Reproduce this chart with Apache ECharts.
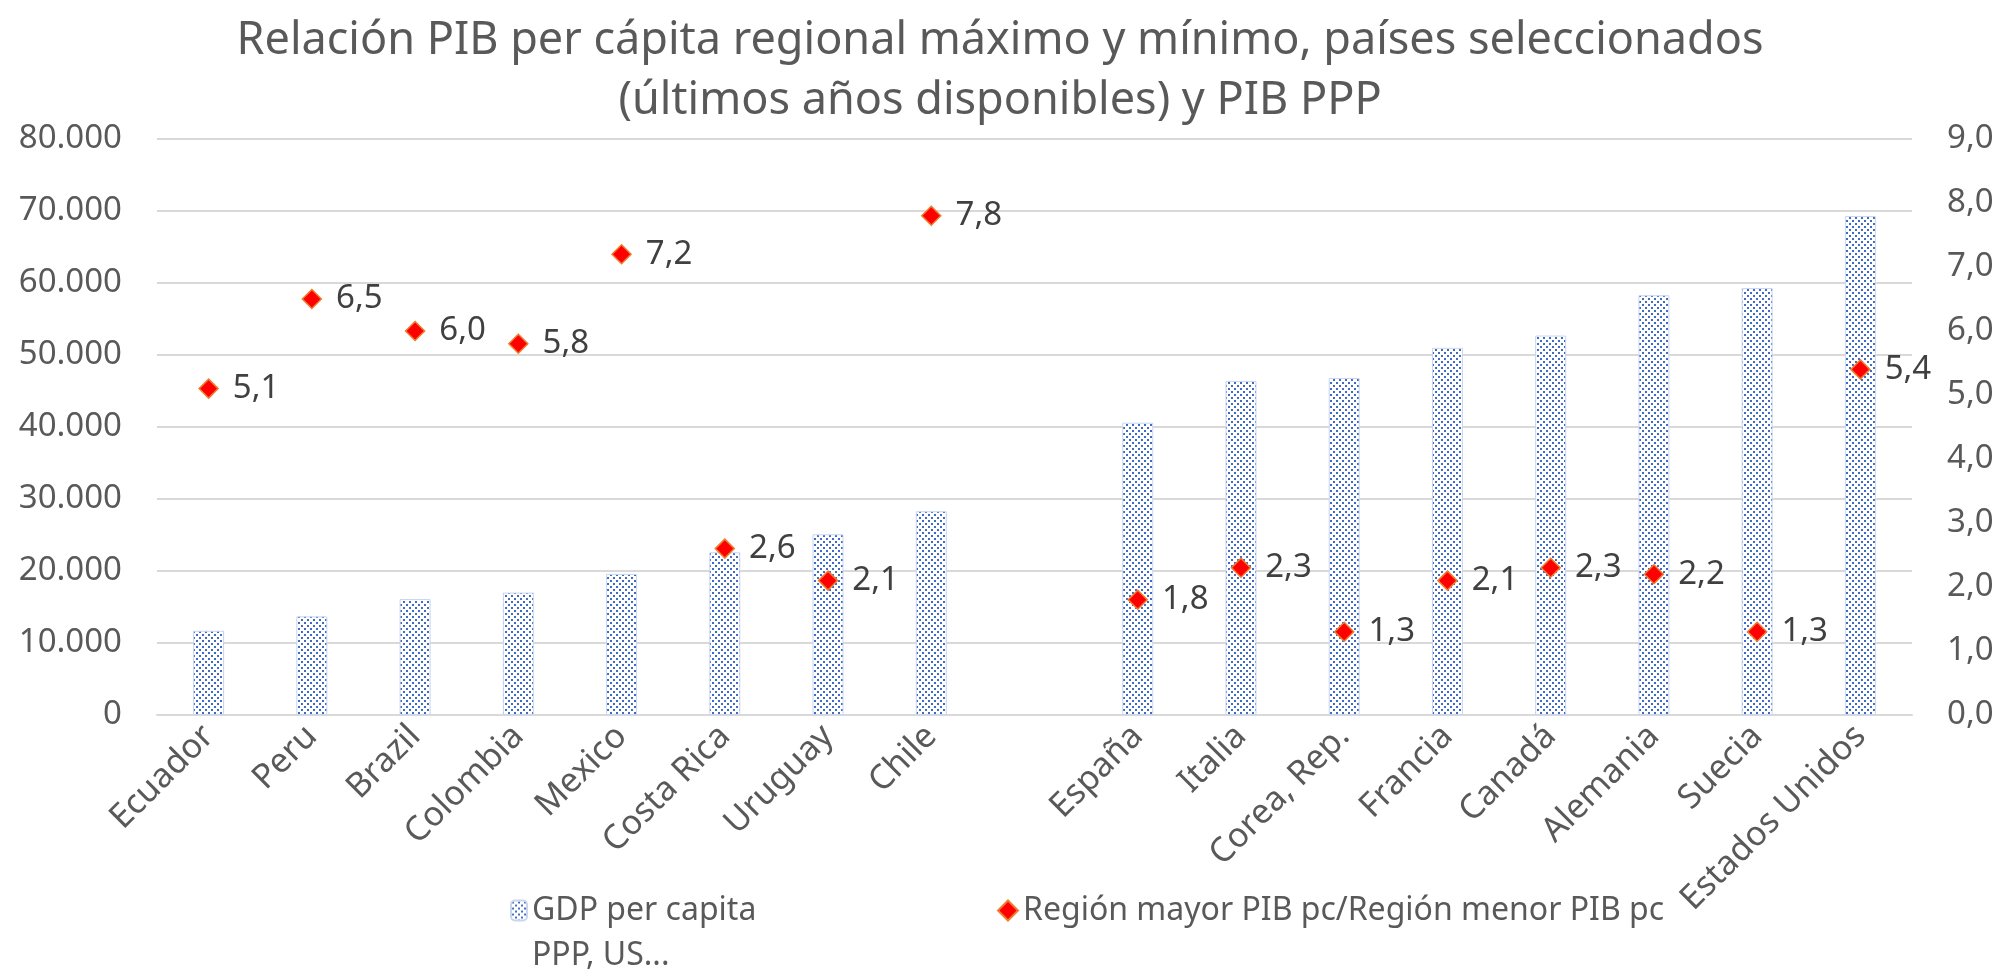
<!DOCTYPE html>
<html>
<head>
<meta charset="utf-8">
<script src="https://cdn.jsdelivr.net/npm/echarts@6/dist/echarts.min.js"></script>
<style>
html, body { margin: 0; padding: 0; background: #fff; }
#main { width: 2000px; height: 970px; }
</style>
</head>
<body>
<div id="main"></div>
<script>
// datos (hueco vacío entre Chile y España)
var paises = ['Ecuador', 'Peru', 'Brazil', 'Colombia', 'Mexico', 'Costa Rica', 'Uruguay', 'Chile', '',
	'España', 'Italia', 'Corea, Rep.', 'Francia', 'Canadá', 'Alemania', 'Suecia', 'Estados Unidos'];
var gdp_ppp = [11700, 13700, 16100, 17000, 19600, 22600, 25100, 28300, null,
	40600, 46400, 46800, 51000, 52700, 58300, 59300, 69300];
var relacion = [5.1, 6.5, 6.0, 5.8, 7.2, 2.6, 2.1, 7.8, null,
	1.8, 2.3, 1.3, 2.1, 2.3, 2.2, 1.3, 5.4];

var gris = '#595959';
var fuente = '"Noto Sans", "Open Sans", sans-serif';

// patrón de puntos para las barras
function patronPuntos(){
	var c = document.createElement('canvas');
	c.width = 6;
	c.height = 6;
	var ctx = c.getContext('2d');
	ctx.fillStyle = '#ffffff';
	ctx.fillRect(0, 0, 6, 6);
	ctx.fillStyle = '#3F6BC4';
	ctx.fillRect(1, 1, 2, 2);
	ctx.fillRect(4, 4, 2, 2);
	return c;
}

function miles(v){
	return String(v).replace(/\B(?=(\d{3})+(?!\d))/g, '.');
}

function coma(v){
	return v.toFixed(1).replace('.', ',');
}

var chart = echarts.init(document.getElementById('main'));

var option = {
	backgroundColor: '#ffffff',
	textStyle: { fontFamily: fuente },
	title: {
		text: 'Relación PIB per cápita regional máximo y mínimo, países seleccionados\n(últimos años disponibles) y PIB PPP',
		left: 'center',
		top: 6,
		textStyle: { fontSize: 45, fontWeight: 'normal', color: gris, lineHeight: 60, fontFamily: fuente }
	},
	legend: [
		{
			// línea vacía al principio para que el icono quede junto a la primera línea
			data: ['GDP per capita PPP, US...'],
			left: 510,
			top: 843,
			padding: 0,
			itemWidth: 16,
			itemHeight: 20,
			formatter: function(){ return '\nGDP per capita\nPPP, US...'; },
			textStyle: { fontSize: 32, color: gris, lineHeight: 45, fontFamily: fuente }
		},
		{
			data: ['Región mayor PIB pc/Región menor PIB pc'],
			left: 997,
			top: 888,
			padding: 0,
			itemWidth: 20,
			itemHeight: 20,
			textStyle: { fontSize: 32, color: gris, lineHeight: 45, fontFamily: fuente }
		}
	],
	grid: { left: 157, right: 88, top: 139, bottom: 255 },
	xAxis: {
		type: 'category',
		data: paises,
		axisLine: { lineStyle: { color: '#D9D9D9', width: 2 } },
		axisTick: { show: false },
		axisLabel: { interval: 0, rotate: 45, fontSize: 34, color: gris, margin: 16, fontFamily: fuente }
	},
	yAxis: [
		{
			type: 'value',
			min: 0,
			max: 80000,
			interval: 10000,
			axisLine: { show: false },
			axisTick: { show: false },
			splitLine: { lineStyle: { color: '#D9D9D9', width: 2 } },
			axisLabel: { fontSize: 33, color: gris, margin: 35, formatter: miles, fontFamily: fuente }
		},
		{
			type: 'value',
			min: 0,
			max: 9,
			interval: 1,
			axisLine: { show: false },
			axisTick: { show: false },
			splitLine: { show: false },
			axisLabel: { fontSize: 33, color: gris, margin: 35, formatter: coma, fontFamily: fuente }
		}
	],
	series: [
		{
			name: 'GDP per capita PPP, US...',
			type: 'bar',
			data: gdp_ppp,
			barWidth: '30%',
			itemStyle: {
				color: { image: patronPuntos(), repeat: 'repeat' },
				borderColor: '#C9D6EE',
				borderWidth: 1
			}
		},
		{
			name: 'Región mayor PIB pc/Región menor PIB pc',
			type: 'scatter',
			yAxisIndex: 1,
			data: relacion,
			symbol: 'diamond',
			symbolSize: 19,
			itemStyle: { color: '#FF0000', borderColor: '#ED7D31', borderWidth: 1.5, opacity: 1 },
			label: {
				show: true,
				position: 'right',
				distance: 14,
				fontSize: 33,
				color: '#404040',
				fontFamily: fuente,
				formatter: function(p){ return coma(p.value[1] !== undefined ? p.value[1] : p.value); }
			}
		}
	]
};

chart.setOption(option);
</script>
</body>
</html>
